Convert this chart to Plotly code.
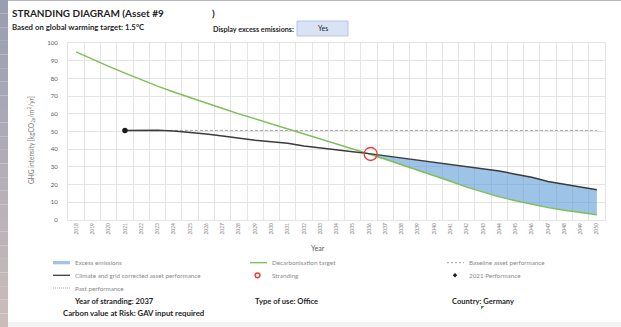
import plotly.graph_objects as go

# ---- data -------------------------------------------------------------
years = list(range(2018, 2051))
target = [95.0, 90.8, 86.8, 83.0, 79.2, 75.6, 72.3, 69.1, 66.0, 63.0,
          60.0, 57.2, 54.4, 51.7, 48.7, 45.8, 43.0, 40.2, 37.3, 34.3,
          31.3, 28.3, 25.0, 21.9, 18.6, 15.7, 13.1, 10.9, 8.8, 7.0,
          5.5, 4.2, 3.0]

asset_years = list(range(2021, 2051))
asset = [50.6, 50.8, 50.7, 50.3, 49.6, 48.6, 47.5, 46.2, 45.0, 44.2,
         43.4, 41.8, 40.6, 39.5, 38.6, 37.5, 36.3, 35.1, 34.0, 32.9,
         31.6, 30.5, 29.3, 27.7, 25.9, 24.1, 21.8, 20.2, 18.6, 17.1]

baseline_value = 50.6
perf_year, perf_value = 2021, 50.6
strand_year, strand_value = 2036.1, 37.3
excess_start = 2036

legend_names = ["Excess emissions", "Decarbonisation target", "Baseline asset performance",
                "Climate and grid corrected asset performance", "Stranding", "2021 Performance",
                "Past performance"]

# ---- geometry helpers (pixel -> paper) -------------------------------
W, H = 621, 327
ML, MR, MT, MB = 68, 16, 43, 107
PW, PH = W - ML - MR, H - MT - MB


def px(x):
    return (x - ML) / PW


def py(y):
    return (H - MB - y) / PH


FONT = "Lato"
GREEN, BLACK, GREY, RED = "#7dbf55", "#3b3b3b", "#a6a6a6", "#e8413c"
FILL = "rgba(91,155,213,0.6)"

fig = go.Figure()

# excess emissions band between target and asset performance
ex_years = [y for y in years if y >= excess_start]
ex_low = [t for y, t in zip(years, target) if y >= excess_start]
ex_high = [a for y, a in zip(asset_years, asset) if y >= excess_start]
fig.add_trace(go.Scatter(x=ex_years, y=ex_low, mode="lines", line=dict(width=0),
                         showlegend=False, hoverinfo="skip"))
fig.add_trace(go.Scatter(x=ex_years, y=ex_high, mode="lines", line=dict(width=0),
                         fill="tonexty", fillcolor=FILL, name=legend_names[0]))

fig.add_trace(go.Scatter(x=years, y=target, mode="lines",
                         line=dict(color=GREEN, width=1.4), name=legend_names[1]))
fig.add_trace(go.Scatter(x=[perf_year, years[-1]], y=[baseline_value, baseline_value],
                         mode="lines", line=dict(color=GREY, width=1, dash="3px,2px"),
                         name=legend_names[2]))
fig.add_trace(go.Scatter(x=asset_years, y=asset, mode="lines",
                         line=dict(color=BLACK, width=1.5), name=legend_names[3]))
fig.add_trace(go.Scatter(x=[strand_year], y=[strand_value], mode="markers",
                         marker=dict(symbol="circle-open", size=13, color=RED,
                                     line=dict(width=1.3)),
                         name=legend_names[4]))
fig.add_trace(go.Scatter(x=[perf_year], y=[perf_value], mode="markers",
                         marker=dict(symbol="circle", size=5.5, color="#1a1a1a"),
                         name=legend_names[5]))

grid = "#e4e4e4"
fig.update_xaxes(range=[2017.5, 2050.5], tickmode="linear", tick0=2018, dtick=1,
                 tickangle=-90, tickfont=dict(family=FONT, size=5, color="#808080"),
                 showgrid=False, zeroline=False, showline=True, linecolor=grid,
                 mirror=True, ticks="",
                 minor=dict(tick0=2017.5, dtick=1, showgrid=True, gridcolor=grid,
                            gridwidth=1))
fig.update_yaxes(range=[0, 100], tickmode="linear", tick0=0, dtick=10,
                 tickfont=dict(family=FONT, size=6, color="#595959"),
                 showgrid=True, gridcolor=grid, zeroline=False, showline=True,
                 linecolor=grid, mirror=True, ticks="", ticklabelstandoff=8)

ann = []


def text(x, y, s, size, color="#1f1f1f", anchor="left", angle=0):
    ann.append(dict(x=px(x), y=py(y), xref="paper", yref="paper", text=s,
                    showarrow=False, xanchor=anchor, yanchor="middle",
                    textangle=angle, font=dict(family=FONT, size=size, color=color)))


text(10, 13, "<b>STRANDING DIAGRAM (Asset #9</b>", 10)
text(210, 13, "<b>)</b>", 10)
text(10, 27, "<b>Based on global warming target: 1.5°C</b>", 7.8)
text(296, 29, "<b>Display excess emissions:</b>", 7.2, anchor="right")
text(322.5, 28.5, "Yes", 7, anchor="center")
text(31, 140, "GHG intensity [kgCO<sub>2e</sub>/m<sup>2</sup>/yr]", 6.6,
     color="#7a7a7a", anchor="center", angle=-90)
text(318, 248, "Year", 7, color="#595959", anchor="center")
text(72, 300.5, "<b>Year of stranding: 2037</b>", 7.6)
text(253, 300.5, "<b>Type of use: Office</b>", 7.6)
text(450, 300.5, "<b>Country: Germany</b>", 7.6)
text(61, 313, "<b>Carbon value at Risk: GAV input required</b>", 7.8)

shapes = [
    # "Yes" toggle box
    dict(type="rect", xref="paper", yref="paper", x0=px(297), x1=px(348),
         y0=py(36), y1=py(21), fillcolor="#dae3f3", line=dict(color="#b4c7e7", width=1),
         layer="below"),
    # bottom band of the sheet
    dict(type="rect", xref="paper", yref="paper", x0=px(0), x1=px(W),
         y0=py(H), y1=py(322), fillcolor="#f3f3f3", line=dict(width=0), layer="below"),
    # top edge line
    dict(type="rect", xref="paper", yref="paper", x0=px(0), x1=px(W),
         y0=py(1), y1=py(0), fillcolor="#b4b4c4", line=dict(width=0)),
    # small green marker under the country field
    dict(type="path", xref="paper", yref="paper",
         path=f"M {px(481)} {py(306)} L {px(484.5)} {py(306)} L {px(481)} {py(309.5)} Z",
         fillcolor="#3a9a3a", line=dict(width=0)),
]

# ---- legend block: three columns below the axis ------------------------
col_x = [53, 250, 447]
row_y = [262.7, 275.3, 288.0]
sym_w = 17
leg_font = 6.3


def leg_line(c, r, color, dash="solid", width=1.3):
    shapes.append(dict(type="line", xref="paper", yref="paper",
                       x0=px(col_x[c]), x1=px(col_x[c] + sym_w),
                       y0=py(row_y[r]), y1=py(row_y[r]),
                       line=dict(color=color, width=width, dash=dash)))


# Excess emissions patch
shapes.append(dict(type="rect", xref="paper", yref="paper",
                   x0=px(col_x[0]), x1=px(col_x[0] + sym_w),
                   y0=py(row_y[0] + 1.6), y1=py(row_y[0] - 1.6),
                   fillcolor="#9dc3e6", line=dict(width=0)))
leg_line(1, 0, GREEN)
leg_line(2, 0, GREY, dash="2px,2px", width=1)
leg_line(0, 1, BLACK)
leg_line(0, 2, GREY, dash="1px,1px", width=1)
# Stranding circle
cx, cy, r = col_x[1] + 7.5, row_y[1], 2.4
shapes.append(dict(type="circle", xref="paper", yref="paper",
                   x0=px(cx - r), x1=px(cx + r), y0=py(cy + r), y1=py(cy - r),
                   line=dict(color=RED, width=1.5)))
# 2021 performance diamond
dx, dy, d = col_x[2] + 8, row_y[1], 2.2
shapes.append(dict(type="path", xref="paper", yref="paper",
                   path=(f"M {px(dx)} {py(dy - d)} L {px(dx + d)} {py(dy)} "
                         f"L {px(dx)} {py(dy + d)} L {px(dx - d)} {py(dy)} Z"),
                   fillcolor="#1a1a1a", line=dict(width=0)))

leg_pos = [(0, 0), (1, 0), (2, 0), (0, 1), (1, 1), (2, 1), (0, 2)]
for name, (c, rr) in zip(legend_names, leg_pos):
    text(col_x[c] + sym_w + 2.5, row_y[rr], name, leg_font, color="#8a8a8a")

# left window edge, vertical gradient strip
top_c, bot_c = (154, 158, 178), (201, 188, 187)
n = 24
for i in range(n):
    t = i / (n - 1)
    c = tuple(round(a + (b - a) * t) for a, b in zip(top_c, bot_c))
    shapes.append(dict(type="rect", xref="paper", yref="paper", x0=px(0), x1=px(8),
                       y0=py(H * (i + 1) / n), y1=py(H * i / n),
                       fillcolor="rgb(%d,%d,%d)" % c, line=dict(width=0)))

fig.update_layout(
    width=W, height=H, autosize=False,
    margin=dict(l=ML, r=MR, t=MT, b=MB),
    paper_bgcolor="white", plot_bgcolor="white",
    annotations=ann, shapes=shapes, showlegend=False,
    font=dict(family=FONT),
)

fig.write_html("out.html")
